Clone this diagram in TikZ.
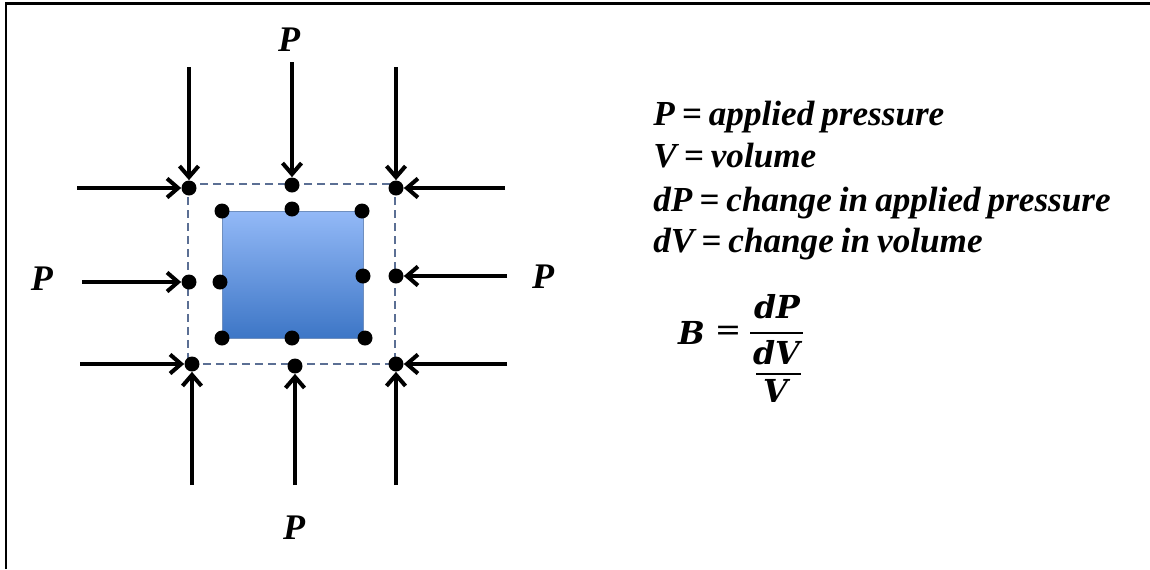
\documentclass[tikz,border=0pt]{standalone}
\usepackage{fontspec}
\setmainfont{Liberation Serif}[WordSpace=0.8]
\newfontfamily\formulafont{DejaVu Serif}
\usepackage{tikz}
\usetikzlibrary{arrows.meta, calc, positioning}
\usepackage{xcolor}
\definecolor{dashblue}{HTML}{5B6F94}
\definecolor{cubetop}{HTML}{93B9F7}
\definecolor{cubebot}{HTML}{3D76C6}
\definecolor{cubeedge}{HTML}{6F8FBF}
\tikzstyle{arrow} = [line width=2.3pt, -{Straight Barb[length=2.2mm, width=3.8mm]}]
\tikzstyle{bar} = [line width=0.045cm]
\tikzset{
  dot/.style      = {circle, fill = black, inner sep = 0pt, minimum size = 3mm},
  plabel/.style   = {font = \fontsize{20.5}{24}\selectfont\bfseries\itshape},
  defline/.style  = {anchor = base west, inner sep = 0pt, font = \fontsize{20}{24}\selectfont\bfseries\itshape},
  formula/.style  = {inner sep = 0pt, font = \formulafont\fontsize{18}{21}\selectfont\bfseries\itshape},
  outline/.style  = {draw = dashblue, line width = 1pt, dash pattern = on 1.6mm off 1mm},
  cube/.style     = {top color = cubetop, bottom color = cubebot, draw = cubeedge, line width = 0.5pt}
}
\begin{document}
\begin{tikzpicture}[x=0.02cm, y=-0.02cm]
  \useasboundingbox (0,0) rectangle (1150,569);
  % frame
  \draw[line width=0.06cm] (6,569) -- (6,3) -- (1150,3);

  % original and compressed volume
  \draw[outline] (188,184) rectangle (395,364);
  \shade[cube] (222,211) rectangle (363,338);

  % corner and edge points
  \foreach \n/\x/\y in {otl/189/188, otm/292/185, otr/396/188,
                        oml/189/282, omr/396/276,
                        obl/192/364, obm/295/366, obr/396/364,
                        itl/222/211, itm/292/209, itr/362/211,
                        iml/220/282, imr/363/276,
                        ibl/222/338, ibm/292/338, ibr/365/338}
    \node[dot] (\n) at (\x,\y) {};

  % applied pressure
  \foreach \s/\x/\y/\t in {topl/189/67/otl, leftt/77/188/otl,
                           topm/292/62/otm,
                           topr/396/67/otr, rightt/505/188/otr,
                           leftm/82/282/oml, rightm/507/276/omr,
                           leftb/80/364/obl, botl/192/485/obl,
                           botm/295/485/obm,
                           rightb/507/364/obr, botr/396/485/obr}
  {
    \coordinate (\s) at (\x,\y);
    \draw[arrow] (\s) -- (\t);
  }

  \node[plabel] (ptop)   at (289,40)  {P};
  \node[plabel] (pbot)   at (294,528) {P};
  \node[plabel] (pleft)  at (42,279)  {P};
  \node[plabel] (pright) at (543,277) {P};

  % definitions
  \node[defline] (def1) at (653,125) {P = applied pressure};
  \node[defline] (def2) at (653,167) {V = volume};
  \node[defline] (def3) at (653,211) {dP = change in applied pressure};
  \node[defline] (def4) at (653,252) {dV = change in volume};

  % bulk modulus
  \node[formula] (fb)  at (692,333) {B};
  \node[formula, font=\formulafont\fontsize{18}{21}\selectfont] (feq) at (728,333) {=};
  \node[formula] (fdp) at (777,307) {dP};
  \node[formula] (fdv) at (777,353) {dV};
  \node[formula] (fv)  at (776,391) {V};
  \draw[bar] (750,333) -- (803,333);
  \draw[bar] (756,374) -- (801,374);
\end{tikzpicture}
\end{document}
